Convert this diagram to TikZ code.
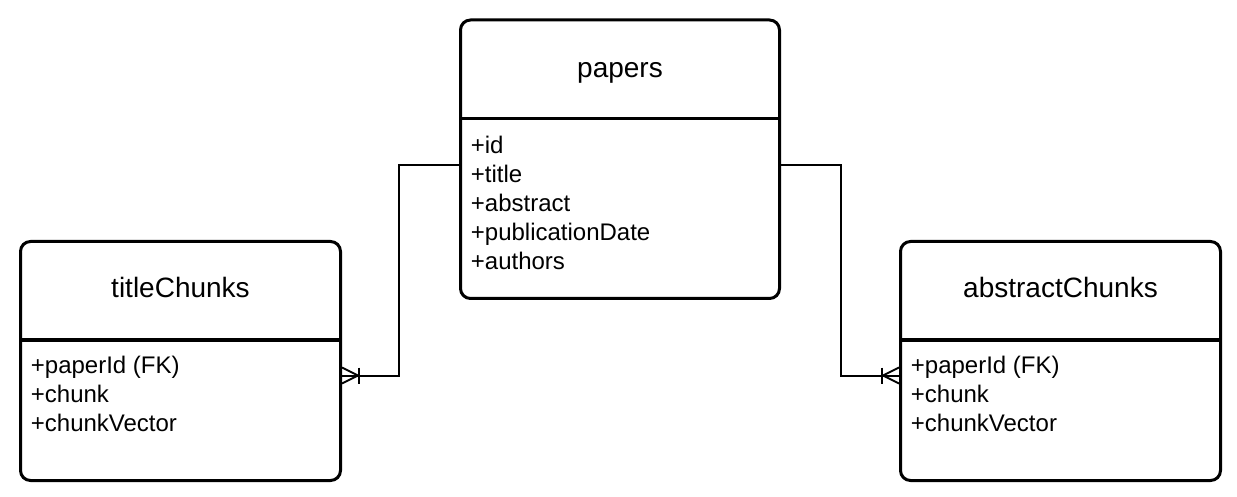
\documentclass[tikz,border=0pt]{standalone}
\usepackage{fontspec}
\setmainfont{Liberation Sans}
\begin{document}
\begin{tikzpicture}[x=0.5pt,y=-0.5pt,
  entity/.style={draw=black, line width=1.5pt, rounded corners=5pt, fill=white, inner sep=0pt, anchor=north west},
  sepline/.style={line width=1.5pt},
  etitle/.style={font=\fontsize{14}{17}\selectfont, inner sep=0pt, anchor=base},
  attr/.style={font=\fontsize{12}{14.4}\selectfont, inner sep=0pt, anchor=base west},
  conn/.style={line width=1pt, line join=miter}
]
\useasboundingbox (0,0) rectangle (1237,497);

% entities
\node[entity, minimum width=159.5pt, minimum height=139.25pt] (papers) at (459,18.5) {};
\node[entity, minimum width=160pt, minimum height=119.5pt] (tc) at (19,240) {};
\node[entity, minimum width=160pt, minimum height=119.5pt] (ac) at (899,240) {};

% header separators
\draw[sepline] ([yshift=-50.25pt]papers.north west) -- ([yshift=-50.25pt]papers.north east);
\draw[sepline] ([yshift=-50pt]tc.north west) -- ([yshift=-50pt]tc.north east);
\draw[sepline] ([yshift=-50pt]ac.north west) -- ([yshift=-50pt]ac.north east);

% titles
\node[etitle] (papersT) at ([yshift=-29.5pt]papers.north) {papers};
\node[etitle] (tcT) at ([yshift=-29pt]tc.north) {titleChunks};
\node[etitle] (acT) at ([yshift=-29pt]ac.north) {abstractChunks};

% papers attributes
\node[attr] (p1) at ([xshift=5.75pt,yshift=-67.75pt]papers.north west) {+id};
\node[attr] (p2) at ([yshift=-14.4pt]p1.base west) {+title};
\node[attr] (p3) at ([yshift=-14.4pt]p2.base west) {+abstract};
\node[attr] (p4) at ([yshift=-14.4pt]p3.base west) {+publicationDate};
\node[attr] (p5) at ([yshift=-14.4pt]p4.base west) {+authors};

% titleChunks attributes
\node[attr] (t1) at ([xshift=5.75pt,yshift=-66.5pt]tc.north west) {+paperId (FK)};
\node[attr] (t2) at ([yshift=-14.5pt]t1.base west) {+chunk};
\node[attr] (t3) at ([yshift=-14.5pt]t2.base west) {+chunkVector};

% abstractChunks attributes
\node[attr] (a1) at ([xshift=5.75pt,yshift=-66.5pt]ac.north west) {+paperId (FK)};
\node[attr] (a2) at ([yshift=-14.5pt]a1.base west) {+chunk};
\node[attr] (a3) at ([yshift=-14.5pt]a2.base west) {+chunkVector};

% connectors
\coordinate (pl) at ([yshift=-3pt]papers.west);
\coordinate (pr) at ([yshift=-3pt]papers.east);
\coordinate (te) at ([yshift=-7.25pt]tc.east);
\coordinate (aw) at ([yshift=-7.25pt]ac.west);

\draw[conn] (pl) -- ++(-60,0) |- (te);
\draw[conn] (pr) -- ++(60,0) |- (aw);

% crow's feet (one or many)
\draw[conn] (te) ++(0,-8) -- ++(16,8) -- ++(-16,8);
\draw[conn] (te) ++(17,-8) -- ++(0,16);
\draw[conn] (aw) ++(0,-8) -- ++(-16,8) -- ++(16,8);
\draw[conn] (aw) ++(-17,-8) -- ++(0,16);
\end{tikzpicture}
\end{document}
